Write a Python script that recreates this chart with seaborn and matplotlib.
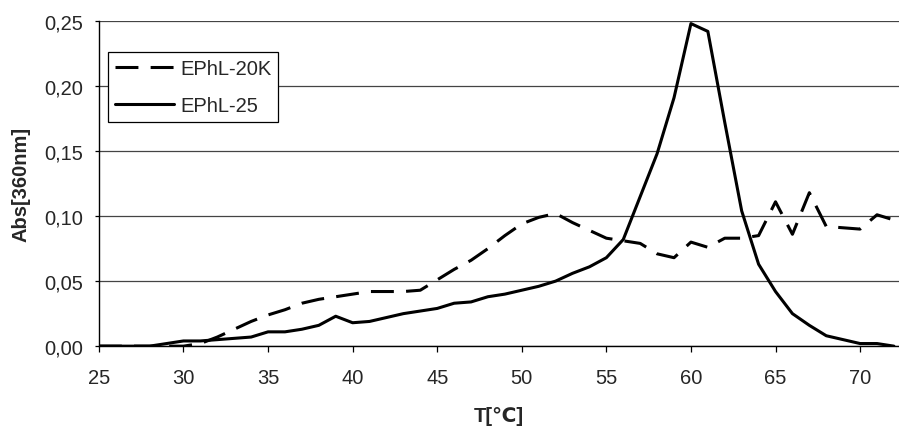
import matplotlib
matplotlib.use("Agg")
import matplotlib.pyplot as plt
import seaborn as sns
import pandas as pd
from matplotlib.ticker import FuncFormatter, MultipleLocator

# Temperature scan, 1 degree steps
temperature = list(range(25, 73))

# Absorbance at 360 nm for each sample
ephl_20k = [0.000, 0.000, 0.000, 0.000, 0.000, 0.000, 0.002, 0.007, 0.013, 0.019,
            0.024, 0.028, 0.033, 0.036, 0.038, 0.040, 0.042, 0.042, 0.042, 0.043,
            0.051, 0.059, 0.066, 0.075, 0.085, 0.094, 0.099, 0.102, 0.095, 0.089,
            0.083, 0.081, 0.079, 0.071, 0.068, 0.080, 0.076, 0.083, 0.083, 0.085,
            0.111, 0.086, 0.118, 0.092, 0.091, 0.090, 0.101, 0.097]
ephl_25 = [0.000, 0.000, 0.000, 0.000, 0.002, 0.004, 0.004, 0.005, 0.006, 0.007,
           0.011, 0.011, 0.013, 0.016, 0.023, 0.018, 0.019, 0.022, 0.025, 0.027,
           0.029, 0.033, 0.034, 0.038, 0.040, 0.043, 0.046, 0.050, 0.056, 0.061,
           0.068, 0.082, 0.115, 0.148, 0.191, 0.248, 0.242, 0.172, 0.104, 0.063,
           0.042, 0.025, 0.016, 0.008, 0.005, 0.002, 0.002, 0.000]

series_names = ["EPhL-20K", "EPhL-25"]
x_ticks = [25, 30, 35, 40, 45, 50, 55, 60, 65, 70]

sns.set_theme(style="white")
plt.rcParams["font.family"] = ["Liberation Sans", "DejaVu Sans"]

fig = plt.figure(figsize=(8.99, 4.27), dpi=100)
ax = fig.add_axes([0.110, 0.187, 0.890, 0.7615])

df = pd.DataFrame({"T": temperature, series_names[0]: ephl_20k, series_names[1]: ephl_25})

sns.lineplot(data=df, x="T", y=series_names[0], ax=ax, color="black",
             linewidth=2.2, label=series_names[0])
sns.lineplot(data=df, x="T", y=series_names[1], ax=ax, color="black",
             linewidth=2.2, label=series_names[1])
ax.lines[0].set_dashes((7.5, 4))

ax.set_xlim(25, 72.3)
ax.set_ylim(0, 0.25)
ax.set_xticks(x_ticks)
ax.yaxis.set_major_locator(MultipleLocator(0.05))
ax.yaxis.set_major_formatter(FuncFormatter(lambda v, p: f"{v:.2f}".replace(".", ",")))

ax.grid(axis="y", color="#444444", linewidth=0.9)
ax.grid(axis="x", visible=False)
ax.set_axisbelow(True)

for side in ["top", "right"]:
    ax.spines[side].set_visible(False)
for side in ["left", "bottom"]:
    ax.spines[side].set_color("black")
    ax.spines[side].set_linewidth(1.0)

ax.tick_params(axis="x", direction="out", length=4.5, width=0.9, color="black",
               labelsize=14.5, pad=11, bottom=True)
ax.tick_params(axis="y", direction="out", length=3, width=0.9, color="black",
               labelsize=14.5, pad=8, left=True)

ax.set_xlabel("T[℃]", fontsize=14.5, fontweight="bold", labelpad=14)
ax.set_ylabel("Abs[360nm]", fontsize=14.5, fontweight="bold", labelpad=10)

leg = ax.legend(loc="upper left", bbox_to_anchor=(0.011, 0.905), fontsize=14.5,
                frameon=True, fancybox=False, shadow=False, handlelength=2.95,
                handletextpad=0.3, borderpad=0.35, labelspacing=0.9,
                borderaxespad=0)
leg.get_frame().set_edgecolor("black")
leg.get_frame().set_linewidth(0.9)
leg.get_frame().set_facecolor("white")
leg.get_frame().set_alpha(1)

fig.savefig("out.png", dpi=100)
